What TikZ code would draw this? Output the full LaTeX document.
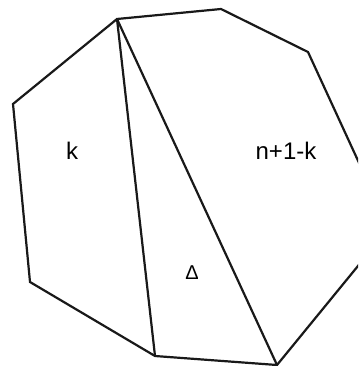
\documentclass[tikz,border=0pt]{standalone}
\usepackage{fontspec}
\setmainfont{Liberation Sans}
\begin{document}
\begin{tikzpicture}[x=1pt,y=-1pt,
  edge/.style={line width=2.2pt,line join=miter,black!90},
  lbl/.style={anchor=base,inner sep=0pt,font=\fontsize{24}{26}\selectfont},
  dlbl/.style={anchor=base,inner sep=0pt,font=\fontsize{20}{22}\selectfont}]
\useasboundingbox (0,0) rectangle (358,366);
\clip (0,0) rectangle (358,366);
\coordinate (A) at (117,19);
\coordinate (B) at (221,9);
\coordinate (C) at (308,52);
\coordinate (R) at (389,228);
\coordinate (D) at (277,365);
\coordinate (E) at (155,356);
\coordinate (F) at (30,282);
\coordinate (G) at (13,104);
\draw[edge] (A) -- (B) -- (C) -- (R) -- (D) -- (E) -- (F) -- (G) -- cycle;
\draw[edge] (A) -- (E);
\draw[edge] (A) -- (D);
\node[lbl] (k) at (72,159) {k};
\node[lbl] (nk) at (286,159) {n+1-k};
\node[dlbl] (t) at (192,279) {Δ};
\end{tikzpicture}
\end{document}
